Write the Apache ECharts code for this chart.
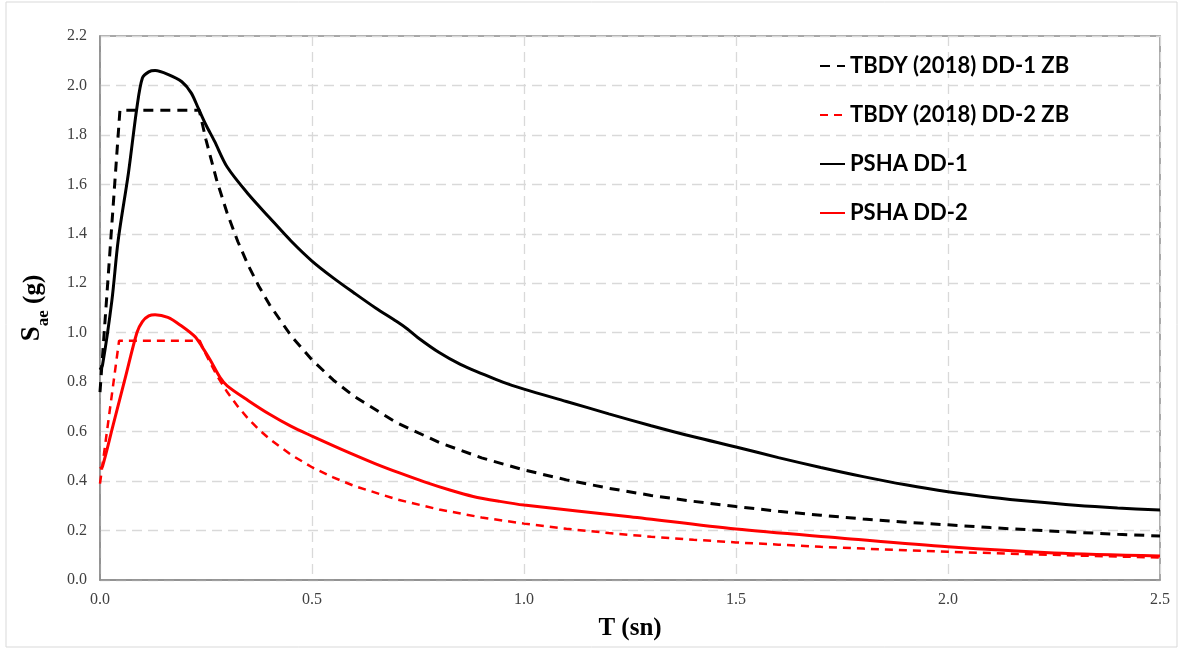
<!DOCTYPE html>
<html>
<head>
<meta charset="utf-8">
<script src="https://cdn.jsdelivr.net/npm/echarts@6/dist/echarts.min.js"></script>
<style>
  html, body { margin: 0; padding: 0; background: #ffffff; }
  #chart { width: 1182px; height: 652px; }
</style>
</head>
<body>
<div id="chart"></div>
<script>
// ---- Data ----
var seriesNames = ['TBDY (2018) DD-1 ZB', 'TBDY (2018) DD-2 ZB', 'PSHA DD-1', 'PSHA DD-2'];
var xTicks = [0.0, 0.5, 1.0, 1.5, 2.0, 2.5];
var yTicks = [0.0, 0.2, 0.4, 0.6, 0.8, 1.0, 1.2, 1.4, 1.6, 1.8, 2.0, 2.2];

var tbdy1T = [0, 0.047, 0.234, 0.25, 0.275, 0.3, 0.325, 0.35, 0.375, 0.4, 0.45, 0.5, 0.55, 0.6, 0.7, 0.8, 0.9, 1.0, 1.1, 1.2, 1.3, 1.4, 1.5, 1.6, 1.7, 1.8, 1.9, 2.0, 2.1, 2.2, 2.3, 2.4, 2.5];
var tbdy1S = [0.76, 1.90, 1.90, 1.78, 1.618, 1.483, 1.369, 1.271, 1.187, 1.113, 0.989, 0.89, 0.809, 0.742, 0.636, 0.556, 0.494, 0.445, 0.405, 0.371, 0.342, 0.318, 0.297, 0.278, 0.262, 0.247, 0.234, 0.223, 0.212, 0.202, 0.193, 0.185, 0.178];

var tbdy2T = [0, 0.045, 0.235, 0.25, 0.275, 0.3, 0.325, 0.35, 0.375, 0.4, 0.45, 0.5, 0.55, 0.6, 0.7, 0.8, 0.9, 1.0, 1.1, 1.2, 1.3, 1.4, 1.5, 1.6, 1.7, 1.8, 1.9, 2.0, 2.1, 2.2, 2.3, 2.4, 2.5];
var tbdy2S = [0.39, 0.968, 0.968, 0.912, 0.829, 0.76, 0.702, 0.651, 0.608, 0.57, 0.507, 0.456, 0.415, 0.38, 0.326, 0.285, 0.253, 0.228, 0.207, 0.19, 0.175, 0.163, 0.152, 0.143, 0.134, 0.127, 0.12, 0.114, 0.109, 0.104, 0.099, 0.095, 0.091];

var psha1T = [0, 0.006, 0.028, 0.043, 0.067, 0.087, 0.1, 0.115, 0.13, 0.16, 0.193, 0.215, 0.232, 0.25, 0.27, 0.3, 0.35, 0.4, 0.45, 0.5, 0.55, 0.6, 0.65, 0.7, 0.725, 0.75, 0.8, 0.85, 0.9, 0.95, 1.0, 1.1, 1.2, 1.3, 1.4, 1.5, 1.6, 1.7, 1.8, 1.9, 2.0, 2.1, 2.2, 2.3, 2.4, 2.5];
var psha1S = [0.85, 0.87, 1.13, 1.375, 1.645, 1.91, 2.03, 2.055, 2.06, 2.045, 2.015, 1.97, 1.907, 1.84, 1.775, 1.67, 1.56, 1.465, 1.372, 1.29, 1.222, 1.16, 1.10, 1.045, 1.015, 0.98, 0.92, 0.872, 0.835, 0.80, 0.772, 0.722, 0.672, 0.624, 0.579, 0.538, 0.495, 0.455, 0.418, 0.385, 0.357, 0.335, 0.317, 0.302, 0.291, 0.283];

var psha2T = [0, 0.006, 0.03, 0.06, 0.087, 0.1, 0.115, 0.13, 0.16, 0.19, 0.224, 0.24, 0.26, 0.283, 0.3, 0.35, 0.4, 0.45, 0.5, 0.59, 0.65, 0.708, 0.765, 0.825, 0.88, 0.943, 1.0, 1.25, 1.5, 1.745, 2.0, 2.25, 2.5];
var psha2S = [0.45, 0.46, 0.62, 0.82, 1.0, 1.045, 1.068, 1.073, 1.062, 1.03, 0.984, 0.945, 0.89, 0.82, 0.785, 0.725, 0.67, 0.622, 0.582, 0.513, 0.47, 0.432, 0.397, 0.364, 0.338, 0.318, 0.303, 0.256, 0.206, 0.17, 0.134, 0.109, 0.097];

function zip(t, s) { return t.map(function (v, i) { return [v, s[i]]; }); }

var chart = echarts.init(document.getElementById('chart'), null, { renderer: 'canvas' });

var serif = '"Liberation Serif", "Times New Roman", serif';
var legendFont = 'Lato, "Open Sans", sans-serif';

var option = {
  animation: false,
  backgroundColor: '#ffffff',
  graphic: [{
    type: 'rect',
    shape: { x: 6, y: 2, width: 1171, height: 645 },
    style: { fill: 'none', stroke: '#d9d9d9', lineWidth: 1 },
    silent: true
  }],
  grid: {
    left: 100, right: 22, top: 36, bottom: 72,
    show: true, borderColor: '#8c8c8c', borderWidth: 1.5, backgroundColor: 'transparent'
  },
  legend: {
    orient: 'vertical',
    left: 819, top: 54, padding: 0,
    itemWidth: 25, itemHeight: 14, itemGap: 25,
    itemStyle: { opacity: 0, borderWidth: 0 },
    textStyle: { fontFamily: legendFont, fontWeight: 'bold', fontSize: 22, color: '#000', lineHeight: 24 },
    data: seriesNames
  },
  xAxis: {
    type: 'value',
    min: 0, max: 2.5, interval: 0.5,
    name: 'T (sn)',
    nameLocation: 'middle', nameGap: 36,
    nameTextStyle: { fontFamily: serif, fontWeight: 'bold', fontSize: 25, color: '#000' },
    axisLine: { show: true, lineStyle: { color: '#8c8c8c', width: 1.5 } },
    axisTick: { show: false },
    axisLabel: { margin: 12, fontFamily: serif, fontSize: 16, color: '#404040', formatter: function (v) { return v.toFixed(1); } },
    splitLine: { show: true, lineStyle: { color: '#d9d9d9', type: [10, 6], width: 1.3 } }
  },
  yAxis: {
    type: 'value',
    min: 0, max: 2.2, interval: 0.2,
    name: '{s|S}{sub|ae}{p| (g)}',
    nameLocation: 'middle', nameGap: 54, nameRotate: 90,
    nameTextStyle: {
      fontFamily: serif, fontWeight: 'bold', fontSize: 25, color: '#000',
      rich: {
        s: { fontFamily: serif, fontWeight: 'bold', fontSize: 27, color: '#000', lineHeight: 30, verticalAlign: 'bottom' },
        sub: { fontFamily: serif, fontWeight: 'bold', fontSize: 17, color: '#000', lineHeight: 30, verticalAlign: 'bottom', padding: [0, 0, -6, 0] },
        p: { fontFamily: serif, fontWeight: 'bold', fontSize: 25, color: '#000', lineHeight: 30, verticalAlign: 'bottom' }
      }
    },
    axisLine: { show: true, lineStyle: { color: '#8c8c8c', width: 1.5 } },
    axisTick: { show: false },
    axisLabel: { margin: 13, fontFamily: serif, fontSize: 16, color: '#404040', formatter: function (v) { return v.toFixed(1); } },
    splitLine: { show: true, lineStyle: { color: '#d9d9d9', type: [10, 6], width: 1.3 } }
  },
  series: [
    {
      name: seriesNames[0], type: 'line', symbol: 'none', smooth: false,
      lineStyle: { color: '#000000', width: 3, type: [10, 7] }, itemStyle: { color: '#000000' },
      data: zip(tbdy1T, tbdy1S), z: 2
    },
    {
      name: seriesNames[1], type: 'line', symbol: 'none', smooth: false,
      lineStyle: { color: '#ff0000', width: 2.5, type: [8, 6] }, itemStyle: { color: '#ff0000' },
      data: zip(tbdy2T, tbdy2S), z: 2
    },
    {
      name: seriesNames[2], type: 'line', symbol: 'none', smooth: 0.3,
      lineStyle: { color: '#000000', width: 3 }, itemStyle: { color: '#000000' },
      data: zip(psha1T, psha1S), z: 3
    },
    {
      name: seriesNames[3], type: 'line', symbol: 'none', smooth: 0.3,
      lineStyle: { color: '#ff0000', width: 3 }, itemStyle: { color: '#ff0000' },
      data: zip(psha2T, psha2S), z: 3
    }
  ]
};
chart.setOption(option);
</script>
</body>
</html>
